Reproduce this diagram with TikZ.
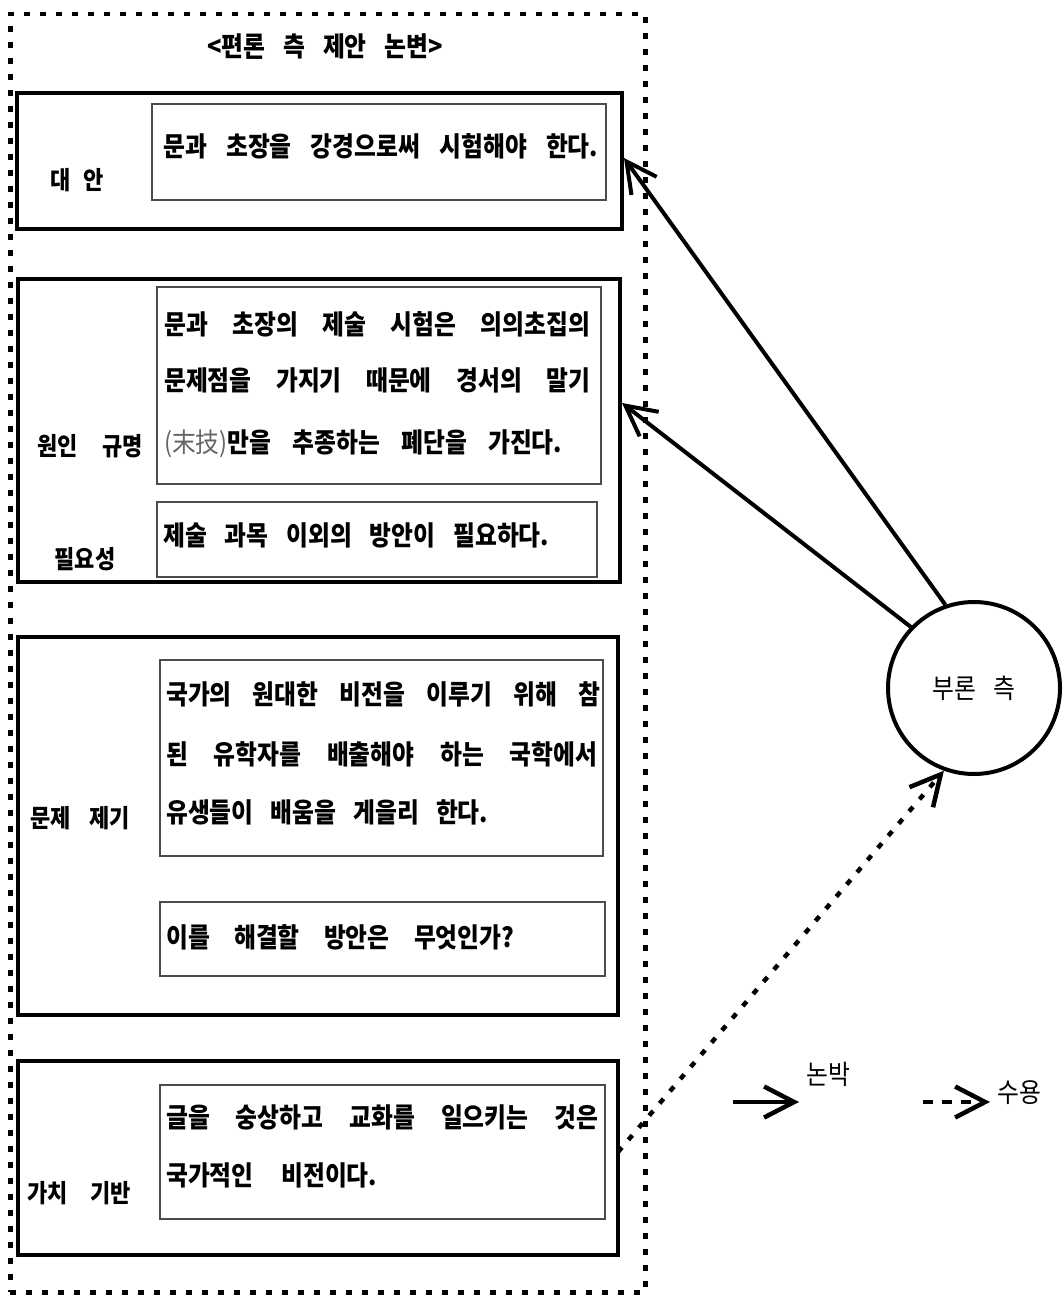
\documentclass[tikz,border=0pt]{standalone}
\usepackage{fontspec}
\setmainfont{Noto Sans CJK KR}[FakeStretch=0.88]
\usetikzlibrary{arrows.meta}
\newcommand\kt{\fontsize{27}{27}\selectfont\bfseries\spaceskip=0.5em plus 1.5em minus 0.42em\relax}
\newcommand\kl{\fontsize{25}{25}\selectfont\bfseries\spaceskip=0.5em plus 1.5em minus 0.42em\relax}
\newcommand\kr{\fontsize{27}{27}\selectfont\spaceskip=0.5em plus 1.5em minus 0.4em\relax}
\newcommand\jline[2]{\makebox[#1pt][s]{#2}}
\begin{document}
\begin{tikzpicture}[x=1pt,y=-1pt,
  outerbox/.style={draw, line width=4.5pt, dash pattern=on 6pt off 10pt},
  thickbox/.style={draw, line width=4.5pt, anchor=north west, inner sep=0pt, outer sep=0pt},
  thinbox/.style={draw=black!70, line width=1.3pt, anchor=north west, inner sep=0pt, outer sep=0pt},
  txt/.style={anchor=base west, inner sep=0pt, font=\kt},
  lbl/.style={inner sep=0pt, font=\kl},
  arr/.style={line width=4pt, -{Straight Barb[length=30pt,width=31pt]}},
  darr/.style={line width=4.5pt, dash pattern=on 6pt off 10pt, -{Straight Barb[length=30pt,width=31pt]}},
  legdarr/.style={line width=4.5pt, dash pattern=on 10pt off 9pt, -{Straight Barb[length=30pt,width=31pt]}}]
\useasboundingbox (0,0) rectangle (1064,1297);
\fill[white] (0,0) rectangle (1064,1297);

% outer dotted frame
\node[outerbox, anchor=north west, inner sep=0pt, minimum width=635pt, minimum height=1278pt] (frame) at (8,12) {};
\node[inner sep=0pt, font=\kt] (title) at (325,47) {\jline{236}{<편론 측 제안 논변>}};

% box 1
\node[thickbox, minimum width=605pt, minimum height=136pt] (b1) at (17,93) {};
\node[thinbox, minimum width=454pt, minimum height=96pt] (b1i) at (152,104) {};
\node[txt] (b1t) at (163,157) {\jline{435}{문과 초장을 강경으로써 시험해야 한다.}};
\node[lbl] (l1) at (77,180) {\jline{53}{대 안}};

% box 2
\node[thickbox, minimum width=602pt, minimum height=303pt] (b2) at (18,279) {};
\node[thinbox, minimum width=444pt, minimum height=197pt] (b2a) at (157,287) {};
\node[txt] (b2t1) at (164,334) {\jline{426}{문과 초장의 제술 시험은 의의초집의}};
\node[txt] (b2t2) at (164,390) {\jline{426}{문제점을 가지기 때문에 경서의 말기}};
\node[txt] (b2t3) at (164,452) {\jline{398}{{\color{black!60}\mdseries(末技)}만을 추종하는 폐단을 가진다.}};
\node[thinbox, minimum width=440pt, minimum height=75pt] (b2b) at (157,502) {};
\node[txt] (b2t4) at (163,545) {\jline{386}{제술 과목 이외의 방안이 필요하다.}};
\node[lbl] (l2) at (90,446) {\jline{105}{원인 규명}};
\node[lbl] (l3) at (85,559) {필요성};

% box 3
\node[thickbox, minimum width=600pt, minimum height=378pt] (b3) at (18,637) {};
\node[thinbox, minimum width=443pt, minimum height=196pt] (b3a) at (160,660) {};
\node[txt] (b3t1) at (166,704) {\jline{434}{국가의 원대한 비전을 이루기 위해 참}};
\node[txt] (b3t2) at (166,764) {\jline{431}{된 유학자를 배출해야 하는 국학에서}};
\node[txt] (b3t3) at (166,822) {\jline{322}{유생들이 배움을 게을리 한다.}};
\node[thinbox, minimum width=445pt, minimum height=74pt] (b3b) at (160,902) {};
\node[txt] (b3t4) at (166,947) {\jline{348}{이를 해결할 방안은 무엇인가?}};
\node[lbl] (l4) at (80,818) {\jline{100}{문제 제기}};

% box 4
\node[thickbox, minimum width=600pt, minimum height=194pt] (b4) at (18,1061) {};
\node[thinbox, minimum width=445pt, minimum height=134pt] (b4i) at (160,1085) {};
\node[txt] (b4t1) at (166,1127) {\jline{432}{글을 숭상하고 교화를 일으키는 것은}};
\node[txt] (b4t2) at (166,1185) {\jline{211}{국가적인 비전이다.}};
\node[lbl] (l5) at (79,1193) {\jline{103}{가치 기반}};

% opposing side
\node[circle, draw, line width=4pt, minimum size=172pt, inner sep=0pt, font=\kr] (opp) at (974,688) {\jline{83}{부론 측}};

% connectors
\coordinate (t1) at (624,158);
\coordinate (t2) at (622,403);
\coordinate (s4) at (618,1152);
\draw[arr] (opp.109) -- (t1);
\draw[arr] (opp.136) -- (t2);
\draw[darr] (s4) -- (opp.250);

% legend
\coordinate (la1) at (733,1102);
\coordinate (lb1) at (799,1102);
\draw[arr, line width=4.5pt] (la1) -- (lb1);
\node[inner sep=0pt, font=\kr] (lt1) at (828,1074) {논박};
\coordinate (la2) at (923,1102);
\coordinate (lb2) at (990,1102);
\draw[legdarr] (la2) -- (lb2);
\node[inner sep=0pt, font=\kr] (lt2) at (1019,1093) {수용};
\end{tikzpicture}
\end{document}
